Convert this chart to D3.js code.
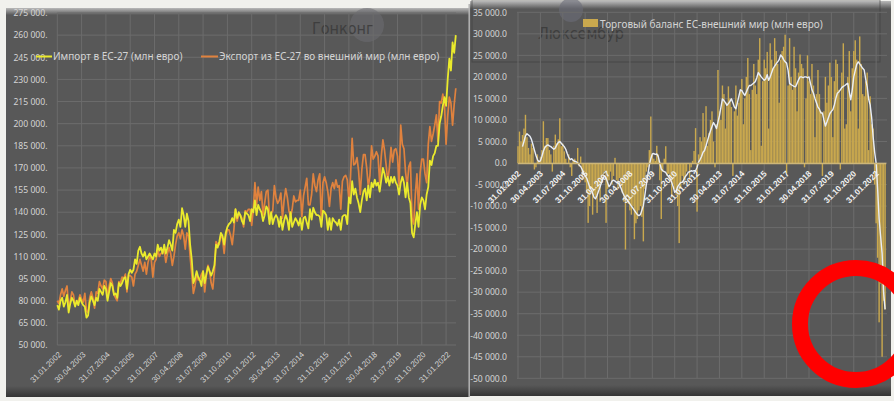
<!DOCTYPE html>
<html><head><meta charset="utf-8">
<script src="https://cdn.jsdelivr.net/npm/d3@7"></script>
<style>
html,body{margin:0;padding:0;background:#f1f1ed;overflow:hidden;}
svg{display:block;font-family:"Noto Sans","Open Sans",sans-serif;}
</style></head><body>
<svg id="c" width="894" height="401"></svg>
<script>
// ---------- DATA (млн евро), monthly Jan 2002 – Jul 2022 ----------
const importVals = [
77000,74000,80000,82000,76000,79000,84000,72000,78000,82000,80000,76000,
80000,77000,82000,79000,77000,76000,68500,70000,79000,83000,80000,77000,
82000,80000,88000,86000,84000,90000,88000,80000,86000,92000,90000,84000,
85000,82000,92000,90000,92000,95000,96000,88000,98000,101000,99000,101000,
108000,105000,114000,116600,112000,110000,113000,108000,110000,112000,110000,108000,
112000,110000,118000,114000,116000,112000,118000,112000,116000,121000,118000,114000,
128000,126000,132000,135000,130000,142700,138000,130000,139000,134000,118000,108000,
92000,95000,100000,96000,94000,90000,100000,92000,98000,103000,100000,97000,
100000,104000,118000,116000,120000,126000,124000,118000,126000,130000,132000,133000,
136000,133000,142000,136000,140000,138000,134000,132000,140000,139000,138000,134000,
142000,140000,148000,138000,145000,142000,140000,134000,138000,144000,142000,132000,
140000,132000,136000,138000,136000,130000,137000,128000,134000,138000,135000,128000,
140000,130000,133000,136000,134000,131000,136000,128000,136000,137000,133000,129000,
142000,135000,143000,140000,138000,138000,137000,130000,141000,140000,138000,128000,
136000,128000,136000,134000,133000,131000,135000,128000,137000,138000,138000,132000,
150000,146000,161000,152000,156000,150000,146000,140000,148000,154000,156000,148000,
158000,150000,160000,157000,162000,158000,160000,154000,162000,170000,166000,160000,
164000,158000,164000,160000,164000,160000,158000,152000,160000,164000,160000,150000,
160000,150000,146000,126000,123000,132000,140000,130000,145000,150000,148000,142000,
152000,157000,175000,172000,178000,180000,185000,185000,200000,205000,212000,218000,
212000,230000,244000,236000,255000,248000,260000];
const exportVals = [
80000,78000,84000,88000,83000,87000,90000,76000,80000,86000,84000,77000,
79000,80000,84000,81000,79000,85000,73000,72000,82000,86000,82000,75000,
86000,85000,93000,90000,88000,94000,93000,82000,90000,95000,92000,84000,
82000,80000,93000,92000,96000,95000,98000,86000,97000,97000,96000,90000,
98000,100000,104000,108000,104000,100000,106000,98000,106000,110000,108000,96000,
106000,108000,115000,110000,112000,113000,114000,106000,112000,116000,112000,104000,
110000,118000,124000,126000,122000,128000,124000,115000,126000,124000,110000,98000,
85000,90000,98000,94000,95000,98000,100000,86000,97000,104000,100000,92000,
88000,100000,120000,118000,118000,125000,122000,112000,124000,128000,128000,124000,
118000,128000,142000,134000,138000,138000,136000,130000,141000,140000,142000,142000,
131000,142000,160000,145000,157000,148000,154000,138000,146000,154000,155000,137000,
139000,141000,158000,150000,146000,148000,153000,136000,148000,156000,150000,141000,
137000,142000,151000,147000,148000,148000,155000,137000,151000,157000,163000,145000,
145000,152000,166000,158000,154000,162000,166000,134000,160000,164000,160000,154000,
144000,156000,160000,156000,162000,157000,158000,142000,161000,164000,165000,162000,
148000,164000,190000,172000,173000,177000,168000,152000,169000,179000,179000,170000,
157000,165000,185000,176000,178000,181000,178000,160000,178000,189000,182000,172000,
161000,170000,184000,174000,182000,183000,178000,158000,199000,186000,183000,167000,
158000,171000,174000,136000,132000,152000,166000,142000,167000,176000,176000,166000,
160000,186000,198000,188000,193000,199000,206000,188000,215000,214000,220000,213000,
186000,205000,218000,214000,199000,213000,224000];
const balanceVals = [
3900,7300,5000,6500,8000,11200,6000,3500,2000,4500,3500,-1500,
-1000,2000,500,1500,3000,9700,4000,5800,5800,3000,2000,-2000,
4000,6600,4600,5500,10400,3900,4500,2700,1000,0,2000,-1000,
-3000,500,1000,0,3500,-800,1500,-4000,-2500,-4500,-7000,-13900,
-10000,-6000,-12000,-7500,-8000,-11600,-6000,-9000,-4000,-3000,-2000,-13900,
-6000,-4000,-2000,-5000,-3000,1200,-4000,-6000,-3500,-5000,-7000,-9000,
-20100,-8000,-9500,-11000,-12000,-10000,-17700,-14000,-13000,-11000,-10000,-12500,
-18200,-6000,-2000,-1000,3000,10800,2000,1000,500,4000,2000,-4000,
-13000,-2000,1000,3900,-3000,-2500,-4000,-8000,-5000,-6000,-7500,-10000,
-18600,-6000,-3000,-5000,-4000,-2000,0,-4000,-1000,500,2800,8100,
-11300,2000,6000,5000,11600,6000,13200,4000,7000,10000,12000,5000,
-1000,9000,21600,12000,10000,18000,16000,8000,14000,17800,15000,13000,
-3000,12000,18000,11000,14000,17000,19500,9000,15000,20000,24400,16000,
3000,17000,23000,18000,16000,24000,29000,4000,19000,24000,22000,25800,
8000,27800,24000,22000,29000,26000,23000,14000,24000,26000,27000,29800,
-2300,18000,29000,20000,17000,27000,22000,12000,21000,25200,23000,22000,
-1000,15000,25000,19000,16000,23000,18000,6000,16000,21600,16000,12000,
-3000,12000,20000,14000,18000,23300,20000,6000,19000,24000,23000,17000,
-1500,21000,27800,8000,9000,20000,26000,12000,22000,26000,28500,24000,
8000,29400,23000,16000,15500,19000,21000,3000,15500,9000,8000,-5000,
-14000,-22000,-37000,-28000,-45000,-32000,-34000];
const balanceTrend = [
null,null,null,3800,5000,6300,6800,6500,6200,5500,4300,3000,
1800,800,300,500,1500,2800,3600,4000,4200,4000,3800,3500,
3200,3500,4200,4800,5000,4600,4200,3800,3200,2200,1300,800,
1000,600,400,300,0,-500,-800,-1500,-2500,-3000,-3500,-4500,
-5500,-6200,-7000,-8000,-8300,-7500,-6500,-5500,-4500,-3500,-3000,-3500,
-4500,-5500,-5000,-4200,-4000,-4200,-4500,-4600,-5000,-5800,-6800,-7500,
-8000,-8500,-9000,-9500,-10000,-10500,-11000,-11500,-12000,-12200,-12000,-11000,
-9900,-7500,-5000,-2800,-500,1000,2100,2200,2000,2100,1500,0,
-1400,-1800,-2000,-2200,-2800,-3200,-3700,-4500,-5500,-6800,-6500,-5500,
-5000,-4500,-4500,-4000,-3200,-2800,-2200,-2000,-1800,-1900,-1800,-1800,
-1000,200,800,1500,2500,2900,4000,5200,6400,7500,8500,9400,
8800,8000,9500,11000,13000,14900,14500,14000,13400,13800,14300,14900,
14000,13000,12600,14000,15500,17000,16800,16200,15700,16500,17300,18000,
18000,18300,18600,18900,19800,21000,20500,20000,19600,19200,19500,20500,
19200,20000,21000,22000,22500,23000,23500,24000,25100,24700,24000,23500,
23200,21500,18500,18200,18000,17800,17700,18500,19300,20000,20000,19800,
20000,20000,19800,20000,18500,17000,16200,15000,14000,13000,12500,11600,
11600,10000,8600,9500,10500,11500,12000,12400,13500,15000,16200,16500,
17000,17500,17800,18000,18300,18500,16500,14700,17000,20000,21500,22900,
23500,23000,22500,22000,21600,19500,17700,14800,13500,10500,6000,2500,
0,-6000,-13000,-17000,-21000,-30000,-34000];
const leftYTicks = [275000,260000,245000,230000,215000,200000,185000,170000,155000,140000,125000,110000,95000,80000,65000,50000];
const rightYTicks = [35000,30000,25000,20000,15000,10000,5000,0,-5000,-10000,-15000,-20000,-25000,-30000,-35000,-40000,-45000,-50000];
const xTickLabels = ["31.01.2002","30.04.2003","31.07.2004","31.10.2005","31.01.2007","30.04.2008","31.07.2009","31.10.2010","31.01.2012","30.04.2013","31.07.2014","31.10.2015","31.01.2017","30.04.2018","31.07.2019","31.10.2020","31.01.2022"];
const seriesNames = ["Импорт в ЕС-27 (млн евро)","Экспорт из ЕС-27 во внешний мир (млн евро)","Торговый баланс ЕС-внешний мир (млн евро)"];
const watermarks = ["Гонконг","Люксембур"];

// categories: month-end dates
const months = importVals.map((_, k) => {
  const y = 2002 + Math.floor(k / 12), m = k % 12;
  const d = new Date(y, m + 1, 0).getDate();
  return String(d).padStart(2, "0") + "." + String(m + 1).padStart(2, "0") + "." + y;
});

const svg = d3.select("#c");
const defs = svg.append("defs");
function vgrad(id, stops) {
  const g = defs.append("linearGradient").attr("id", id).attr("x1", 0).attr("y1", 0).attr("x2", 0).attr("y2", 1);
  stops.forEach(s => g.append("stop").attr("offset", s[0]).attr("stop-color", s[1]));
}
vgrad("topband", [[0, "#b9b9b9"], [1, "#585858"]]);
vgrad("botband", [[0, "#585858"], [1, "#353535"]]);

const BG = "#585858", GRID = "#6c6c6c", LBL = "#d4d4d4";

// background & panels
svg.append("rect").attr("width", 894).attr("height", 401).attr("fill", "#f1f1ed");
svg.append("rect").attr("x", 6).attr("y", 8).attr("width", 464).attr("height", 389).attr("fill", BG);
svg.append("rect").attr("x", 6).attr("y", 8).attr("width", 464).attr("height", 7).attr("fill", "url(#topband)");
svg.append("rect").attr("x", 6).attr("y", 386).attr("width", 464).attr("height", 11).attr("fill", "url(#botband)");
svg.append("rect").attr("x", 470).attr("y", 1).attr("width", 421).attr("height", 395).attr("fill", BG);
svg.append("rect").attr("x", 470).attr("y", 1).attr("width", 421).attr("height", 8).attr("fill", "url(#topband)");
svg.append("rect").attr("x", 470).attr("y", 385).attr("width", 421).attr("height", 11).attr("fill", "url(#botband)");
svg.append("line").attr("x1", 469.2).attr("x2", 469.2).attr("y1", 4).attr("y2", 397).attr("stroke", "#b5b5b5").attr("stroke-width", 1.5);

// watermarks
svg.append("circle").attr("cx", 367).attr("cy", 25).attr("r", 17).attr("fill", "#6e6e72").attr("opacity", 0.55);
svg.append("text").attr("x", 312).attr("y", 34).text(watermarks[0])
  .attr("font-family", "'Liberation Sans Narrow','DejaVu Sans Condensed',sans-serif").attr("font-size", 16)
  .attr("fill", "#383838").attr("opacity", 0.8);
svg.append("rect").attr("x", 472).attr("y", 0).attr("width", 408).attr("height", 62).attr("fill", "none").attr("stroke", "#3e3e3e").attr("stroke-width", 1).attr("opacity", 0.6);
svg.append("circle").attr("cx", 571).attr("cy", 10).attr("r", 12).attr("fill", "#6a6c78").attr("opacity", 0.6);
svg.append("text").attr("x", 538).attr("y", 39).text(watermarks[1])
  .attr("font-family", "'Liberation Sans Narrow','DejaVu Sans Condensed',sans-serif").attr("font-size", 16)
  .attr("fill", "#383838").attr("opacity", 0.8);

// ---------------- LEFT CHART ----------------
const xL = d3.scalePoint().domain(months).range([57.3, 455.8]);
const yL = d3.scaleLinear().domain([50000, 275000]).range([345, 13]);
const gL = svg.append("g");
gL.append("g").selectAll("line").data(leftYTicks).join("line")
  .attr("x1", 57.3).attr("x2", 456).attr("y1", d => yL(d)).attr("y2", d => yL(d))
  .attr("stroke", GRID).attr("stroke-width", 1);
gL.append("g").selectAll("line").data(xTickLabels).join("line")
  .attr("x1", d => xL(d)).attr("x2", d => xL(d)).attr("y1", 13).attr("y2", 345)
  .attr("stroke", GRID).attr("stroke-width", 1);
const fmtL = d => d3.format(",")(d).replace(/,/g, " ") + ".";
const axL = gL.append("g").attr("transform", "translate(57,0)")
  .call(d3.axisLeft(yL).tickValues(leftYTicks).tickFormat(fmtL).tickSize(0).tickPadding(9.5));
axL.select(".domain").remove();
axL.selectAll("text").attr("fill", LBL).attr("font-size", 8.6).attr("font-family", "'Noto Sans',sans-serif");
const axLx = gL.append("g").attr("transform", "translate(0,345)")
  .call(d3.axisBottom(xL).tickValues(xTickLabels).tickSize(0));
axLx.select(".domain").remove();
axLx.selectAll("text").attr("fill", LBL).attr("font-size", 8).attr("y", 0).attr("dy", "0.35em")
  .attr("text-anchor", "end").attr("transform", "translate(2,8) rotate(-45)");

const lineL = d3.line().x((d, i) => xL(months[i])).y(d => yL(d));
gL.append("path").datum(exportVals).attr("d", lineL).attr("fill", "none")
  .attr("stroke", "#e0823e").attr("stroke-width", 1.7).attr("stroke-linejoin", "round");
gL.append("path").datum(importVals).attr("d", lineL).attr("fill", "none")
  .attr("stroke", "#eaea2c").attr("stroke-width", 1.8).attr("stroke-linejoin", "round");

// legend left
const lg = svg.append("g").attr("font-size", 10).attr("fill", LBL);
lg.append("line").attr("x1", 36).attr("x2", 52).attr("y1", 56.5).attr("y2", 56.5).attr("stroke", "#eaea2c").attr("stroke-width", 2);
lg.append("text").attr("x", 53).attr("y", 60).text(seriesNames[0]);
lg.append("line").attr("x1", 201).attr("x2", 218).attr("y1", 56.5).attr("y2", 56.5).attr("stroke", "#e0823e").attr("stroke-width", 2);
lg.append("text").attr("x", 219).attr("y", 60).text(seriesNames[1]);

// ---------------- RIGHT CHART ----------------
const xR = d3.scaleBand().domain(months).range([517.3, 885.8]).paddingInner(0.05).paddingOuter(0);
const yR = d3.scaleLinear().domain([-50000, 35000]).range([378.3, 12.3]);
const cx = m => xR(m) + xR.bandwidth() / 2;
const gR = svg.append("g");
gR.append("g").selectAll("line").data(rightYTicks).join("line")
  .attr("x1", 517).attr("x2", 887).attr("y1", d => yR(d)).attr("y2", d => yR(d))
  .attr("stroke", GRID).attr("stroke-width", 1);
gR.append("g").selectAll("line").data(xTickLabels).join("line")
  .attr("x1", d => cx(d)).attr("x2", d => cx(d)).attr("y1", 12.3).attr("y2", 378.3)
  .attr("stroke", GRID).attr("stroke-width", 1);
const locale = d3.formatLocale({decimal: ".", thousands: " ", grouping: [3], currency: ["", ""], minus: "-"});
const fmtR = locale.format(",.1f");
const axR = gR.append("g").attr("transform", "translate(517,0)")
  .call(d3.axisLeft(yR).tickValues(rightYTicks).tickFormat(fmtR).tickSize(0).tickPadding(10));
axR.select(".domain").remove();
axR.selectAll("text").attr("fill", LBL).attr("font-size", 8.6).attr("font-family", "'Noto Sans',sans-serif");

gR.append("g").selectAll("rect").data(balanceVals).join("rect")
  .attr("x", (d, i) => xR(months[i])).attr("width", xR.bandwidth())
  .attr("y", d => yR(Math.max(0, d))).attr("height", d => Math.abs(yR(d) - yR(0)))
  .attr("fill", "#c9a84e");
const lineR = d3.line().defined(d => d != null).x((d, i) => cx(months[i])).y(d => yR(d));
gR.append("path").datum(balanceTrend).attr("d", lineR).attr("fill", "none")
  .attr("stroke", "#e9eef7").attr("stroke-width", 1.4).attr("stroke-linejoin", "round");

const axRx = gR.append("g").attr("transform", `translate(0,${yR(0)})`)
  .call(d3.axisBottom(xR).tickValues(xTickLabels).tickSize(0));
axRx.select(".domain").attr("stroke", "#cdb678").attr("stroke-width", 1.5);
axRx.selectAll("text").attr("fill", "#f2f2f2").attr("font-size", 8.4).attr("font-weight", "bold")
  .attr("y", 0).attr("dy", "0.35em").attr("text-anchor", "end").attr("transform", "translate(1,9) rotate(-45)");

// legend right
const lr = svg.append("g").attr("font-size", 10).attr("fill", LBL);
lr.append("rect").attr("x", 583).attr("y", 19).attr("width", 15).attr("height", 8).attr("fill", "#c9a84e");
lr.append("text").attr("x", 600).attr("y", 27.5).text(seriesNames[2]);

// red highlight circle
svg.append("circle").attr("cx", 856).attr("cy", 324).attr("r", 56).attr("fill", "none")
  .attr("stroke", "#ff0000").attr("stroke-width", 16);
</script>
</body></html>
